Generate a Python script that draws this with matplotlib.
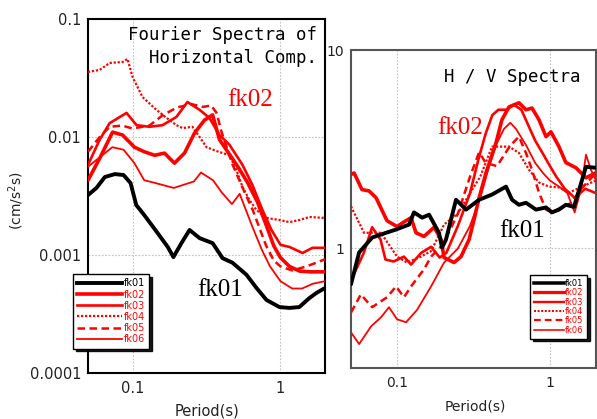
import matplotlib
matplotlib.use("Agg")
import matplotlib.pyplot as plt
from matplotlib.lines import Line2D

# ---------------- data: Fourier spectra (left) ----------------
fs_fk01_T = [0.05, 0.057, 0.065, 0.076, 0.087, 0.097, 0.106, 0.12, 0.148, 0.173, 0.189, 0.214,
             0.243, 0.284, 0.348, 0.406, 0.474, 0.589, 0.689, 0.804, 0.984, 1.15, 1.34, 1.57, 1.75, 2.0]
fs_fk01_A = [0.00322, 0.0037, 0.00458, 0.00485, 0.00476, 0.00407, 0.00265, 0.00218, 0.00153, 0.00117,
             0.00096, 0.00126, 0.00163, 0.00139, 0.00126, 0.00094, 0.00086, 0.00068, 0.000525, 0.000416,
             0.000362, 0.000356, 0.000362, 0.000432, 0.000477, 0.000525]

fs_fk02_T = [0.05, 0.06, 0.0733, 0.0856, 0.103, 0.12, 0.141, 0.1645, 0.192, 0.2245, 0.2624, 0.3066,
             0.3475, 0.387, 0.45, 0.52, 0.6, 0.7, 0.8, 0.9, 1.0, 1.15, 1.35, 1.6, 2.0]
fs_fk02_A = [0.0043, 0.0066, 0.011, 0.0104, 0.0082, 0.0075, 0.0070, 0.0073, 0.0060, 0.0073, 0.0108,
             0.0139, 0.0154, 0.0095, 0.0072, 0.0055, 0.0041, 0.0028, 0.0018, 0.0012, 0.00095, 0.0008,
             0.00073, 0.00072, 0.00072]

fs_fk03_T = [0.05, 0.06, 0.07, 0.0911, 0.1064, 0.13, 0.1595, 0.198, 0.235, 0.284, 0.331, 0.387, 0.452,
             0.554, 0.647, 0.756, 0.869, 1.0, 1.15, 1.41, 1.645, 2.0]
fs_fk03_A = [0.0058, 0.0095, 0.0131, 0.016, 0.0126, 0.0122, 0.0126, 0.0148, 0.0198, 0.017, 0.0145,
             0.0104, 0.0086, 0.0058, 0.0039, 0.0024, 0.00163, 0.00122, 0.00117, 0.00104, 0.00115, 0.00115]

fs_fk04_T = [0.05, 0.0598, 0.07, 0.0856, 0.0925, 0.1, 0.1168, 0.145, 0.17, 0.198, 0.218, 0.254, 0.284,
             0.316, 0.37, 0.452, 0.504, 0.554, 0.618, 0.689, 0.804, 0.984, 1.15, 1.344, 1.57, 2.0]
fs_fk04_A = [0.0356, 0.037, 0.0424, 0.0432, 0.0458, 0.0323, 0.0218, 0.017, 0.0145, 0.0126, 0.0119,
             0.0122, 0.010, 0.0082, 0.0076, 0.0070, 0.00525, 0.00377, 0.00292, 0.0024, 0.00206,
             0.00198, 0.0019, 0.00198, 0.0021, 0.00206]

fs_fk05_T = [0.05, 0.06, 0.07, 0.085, 0.1, 0.13, 0.16, 0.2, 0.25, 0.3, 0.34, 0.37, 0.4, 0.47, 0.55,
             0.65, 0.8, 0.9, 1.0, 1.2, 1.5, 2.0]
fs_fk05_A = [0.0075, 0.0100, 0.0122, 0.0125, 0.0118, 0.0125, 0.0153, 0.0178, 0.019, 0.018, 0.0185,
             0.016, 0.011, 0.0060, 0.0038, 0.0024, 0.0012, 0.0009, 0.0008, 0.00074, 0.0008, 0.00092]

fs_fk06_T = [0.05, 0.073, 0.087, 0.103, 0.12, 0.14, 0.19, 0.26, 0.29, 0.35, 0.4, 0.47, 0.53, 0.57,
             0.65, 0.75, 0.85, 1.0, 1.2, 1.4, 1.65, 2.0]
fs_fk06_A = [0.0056, 0.0082, 0.0078, 0.0060, 0.0043, 0.0041, 0.0037, 0.0042, 0.0050, 0.0043, 0.0034,
             0.0027, 0.0033, 0.0026, 0.0017, 0.0011, 0.0008, 0.0006, 0.00052, 0.00052, 0.00057, 0.0006]

# ---------------- data: H/V spectra (right) ----------------
hv_fk01_T = [0.05, 0.0565, 0.0687, 0.0848, 0.0985, 0.12, 0.129, 0.146, 0.162, 0.188, 0.197, 0.209,
             0.243, 0.283, 0.344, 0.418, 0.516, 0.565, 0.627, 0.697, 0.81, 0.942, 1.03, 1.145, 1.27,
             1.435, 1.72, 2.0]
hv_fk01_R = [0.66, 0.955, 1.135, 1.2, 1.246, 1.32, 1.52, 1.43, 1.48, 1.2, 1.01, 1.11, 1.76, 1.57, 1.76,
             1.87, 2.05, 1.76, 1.66, 1.70, 1.57, 1.61, 1.52, 1.57, 1.66, 1.62, 2.58, 2.55]

hv_fk02_T = [0.05, 0.0524, 0.059, 0.0656, 0.073, 0.08, 0.086, 0.1, 0.111, 0.1235, 0.133, 0.15, 0.175,
             0.194, 0.203, 0.236, 0.262, 0.296, 0.319, 0.344, 0.382, 0.444, 0.485, 0.54, 0.627, 0.697,
             0.763, 0.848, 0.942, 1.015, 1.145, 1.27, 1.48, 1.72, 2.0]
hv_fk02_R = [2.36, 2.4, 1.98, 1.95, 1.8, 1.55, 1.38, 1.29, 1.36, 1.43, 1.2, 1.15, 1.28, 1.11, 0.9,
             0.85, 0.91, 1.11, 1.4, 1.8, 2.41, 3.41, 4.45, 5.17, 5.42, 5.0, 5.1, 4.45, 3.66, 3.87,
             3.26, 2.71, 2.55, 2.27, 2.41]

hv_fk03_T = [0.05, 0.0608, 0.0687, 0.078, 0.084, 0.095, 0.111, 0.1235, 0.1436, 0.167, 0.19, 0.21,
             0.25, 0.3, 0.34, 0.38, 0.42, 0.46, 0.52, 0.58, 0.65, 0.7, 0.8, 0.9, 1.0, 1.1, 1.25, 1.45,
             1.7, 2.0]
hv_fk03_R = [0.69, 0.955, 1.28, 1.11, 0.88, 0.86, 0.91, 0.83, 0.95, 1.02, 0.9, 0.95, 1.3, 1.9, 2.8,
             3.8, 4.7, 5.0, 5.0, 5.3, 5.0, 4.4, 3.5, 3.0, 2.6, 2.3, 2.0, 1.8, 2.0, 1.9]

hv_fk04_T = [0.05, 0.0608, 0.0785, 0.1, 0.116, 0.1436, 0.167, 0.203, 0.25, 0.3, 0.35, 0.418, 0.54,
             0.627, 0.73, 0.848, 0.985, 1.145, 1.33, 1.62, 2.0]
hv_fk04_R = [1.63, 1.2, 1.2, 0.91, 0.85, 0.91, 0.97, 1.32, 1.5, 1.9, 2.3, 3.26, 3.26, 3.03, 2.49,
             2.15, 2.05, 2.03, 1.91, 2.05, 2.2]

hv_fk05_T = [0.05, 0.058, 0.0687, 0.086, 0.0985, 0.111, 0.1235, 0.15, 0.167, 0.2, 0.25, 0.3, 0.344,
             0.38, 0.45, 0.55, 0.627, 0.7, 0.763, 0.848, 0.942, 1.03, 1.2, 1.39, 1.6, 2.0]
hv_fk05_R = [0.476, 0.587, 0.506, 0.568, 0.644, 0.568, 0.644, 0.785, 0.91, 1.05, 1.5, 2.3, 3.05,
             2.7, 2.6, 3.3, 3.66, 3.0, 2.49, 1.91, 1.57, 1.52, 1.62, 1.7, 2.0, 2.4]

hv_fk06_T = [0.05, 0.0565, 0.0676, 0.0785, 0.0886, 0.1, 0.1146, 0.135, 0.167, 0.203, 0.25, 0.3,
             0.35, 0.4, 0.45, 0.5, 0.55, 0.6, 0.7, 0.8, 0.9, 1.0, 1.2, 1.3, 1.45, 1.6, 1.72, 1.85, 2.0]
hv_fk06_R = [0.378, 0.33, 0.405, 0.45, 0.506, 0.44, 0.425, 0.49, 0.644, 0.85, 1.0, 1.3, 1.8, 2.6,
             3.4, 4.0, 4.3, 4.0, 3.3, 2.7, 2.4, 2.2, 2.0, 1.9, 1.52, 2.0, 2.97, 2.5, 2.2]

names = ["fk01", "fk02", "fk03", "fk04", "fk05", "fk06"]

# ---------------- styles ----------------
RED = "#ff0000"
styles = {
    "fk01": dict(color="black", lw=2.8, ls="-"),
    "fk02": dict(color=RED, lw=2.6, ls="-"),
    "fk03": dict(color=RED, lw=1.9, ls="-"),
    "fk04": dict(color=RED, lw=1.6, ls=(0, (1.0, 0.8))),
    "fk05": dict(color=RED, lw=1.8, ls=(0, (3.0, 1.8))),
    "fk06": dict(color=RED, lw=1.3, ls="-"),
}

W, H = 597, 419
fig = plt.figure(figsize=(W / 100, H / 100), dpi=100)


def axes_px(x0, y0, x1, y1):
    return fig.add_axes([x0 / W, 1 - y1 / H, (x1 - x0) / W, (y1 - y0) / H])


axL = axes_px(88, 19, 325, 373)
axR = axes_px(351, 50, 596, 368)

left_data = [(fs_fk01_T, fs_fk01_A), (fs_fk02_T, fs_fk02_A), (fs_fk03_T, fs_fk03_A),
             (fs_fk04_T, fs_fk04_A), (fs_fk05_T, fs_fk05_A), (fs_fk06_T, fs_fk06_A)]
right_data = [(hv_fk01_T, hv_fk01_R), (hv_fk02_T, hv_fk02_R), (hv_fk03_T, hv_fk03_R),
              (hv_fk04_T, hv_fk04_R), (hv_fk05_T, hv_fk05_R), (hv_fk06_T, hv_fk06_R)]

draw_order = ["fk06", "fk05", "fk04", "fk03", "fk02", "fk01"]
for ax, data in ((axL, left_data), (axR, right_data)):
    dd = dict(zip(names, data))
    for n in draw_order:
        T, V = dd[n]
        st = styles[n]
        ax.plot(T, V, color=st["color"], lw=st["lw"], linestyle=st["ls"],
                solid_joinstyle="round", solid_capstyle="round", dash_capstyle="butt",
                zorder=3 if n != "fk01" else 4)
    ax.set_xscale("log")
    ax.set_yscale("log")
    ax.set_xlim(0.05, 2.0)
    ax.minorticks_off()
    ax.grid(True, which="major", color="#c0c0c0", linestyle=(0, (1.5, 1.5)), lw=0.8)
    ax.set_axisbelow(True)
    ax.tick_params(length=0)

# left axes
axL.set_ylim(1e-4, 1e-1)
axL.set_yticks([1e-4, 1e-3, 1e-2, 1e-1])
axL.set_yticklabels(["0.0001", "0.001", "0.01", "0.1"])
axL.set_xticks([0.1, 1])
axL.set_xticklabels(["0.1", "1"])
axL.tick_params(axis="y", pad=5, labelsize=10.5, labelcolor="#222222")
axL.tick_params(axis="x", pad=6, labelsize=10.5, labelcolor="#222222")
for sp in axL.spines.values():
    sp.set_linewidth(1.5)
    sp.set_color("black")

# right axes
axR.set_ylim(0.25, 10)
axR.set_yticks([1, 10])
axR.set_yticklabels(["1", "10"])
axR.set_xticks([0.1, 1])
axR.set_xticklabels(["0.1", "1"])
axR.tick_params(axis="y", pad=5, labelsize=10, labelcolor="#222222")
axR.tick_params(axis="x", pad=6, labelsize=10, labelcolor="#222222")
for sp in axR.spines.values():
    sp.set_linewidth(1.5)
    sp.set_color("#555555")

# axis labels
fig.text(207 / W, 1 - 411 / H, "Period(s)", ha="center", va="center", fontsize=10.5, color="#222222")
fig.text(475 / W, 1 - 406 / H, "Period(s)", ha="center", va="center", fontsize=10, color="#222222")
fig.text(16 / W, 1 - 201 / H, "(cm/s$^2$s)", ha="center", va="center", rotation=90, fontsize=10,
         color="#222222")

# panel titles
mono = "DejaVu Sans Mono"
axL.text(0.966, 0.955, "Fourier Spectra of", transform=axL.transAxes, ha="right", va="center",
         family=mono, fontsize=12.5)
axL.text(0.966, 0.89, "Horizontal Comp.", transform=axL.transAxes, ha="right", va="center",
         family=mono, fontsize=12.5)
axR.text(0.935, 0.915, "H / V Spectra", transform=axR.transAxes, ha="right", va="center",
         family=mono, fontsize=12.5)

# annotations
serif = "Liberation Serif"
axL.text(0.684, 0.771, "fk02", transform=axL.transAxes, ha="center", va="center",
         family=serif, fontsize=18, color=RED)
axL.text(0.557, 0.234, "fk01", transform=axL.transAxes, ha="center", va="center",
         family=serif, fontsize=18, color="black")
axR.text(0.445, 0.755, "fk02", transform=axR.transAxes, ha="center", va="center",
         family=serif, fontsize=18, color=RED)
axR.text(0.698, 0.431, "fk01", transform=axR.transAxes, ha="center", va="center",
         family=serif, fontsize=18, color="black")

# legends
label_colors = ["black"] + [RED] * 5


def make_legend(ax, x, y, fs, hl, lw_scale, spacing):
    handles = [Line2D([], [], color=styles[n]["color"], lw=styles[n]["lw"] * lw_scale,
                      linestyle=styles[n]["ls"]) for n in names]
    leg = ax.legend(handles, names, loc="upper left", bbox_to_anchor=(x / W, 1 - y / H),
                    bbox_transform=fig.transFigure, fontsize=fs, handlelength=hl,
                    handletextpad=0.15, labelspacing=spacing, borderpad=0.45, borderaxespad=0,
                    frameon=True, fancybox=False, framealpha=1,
                    shadow={"color": "black", "alpha": 0.9}, edgecolor="black",
                    labelcolor=label_colors)
    leg.get_frame().set_linewidth(1.0)
    leg.set_zorder(10)
    return leg


make_legend(axL, 73, 274, 7, 4.6, 1.0, 0.12)
make_legend(axR, 530, 275, 6, 3.6, 0.9, 0.05)

fig.savefig("out.png", dpi=100)
